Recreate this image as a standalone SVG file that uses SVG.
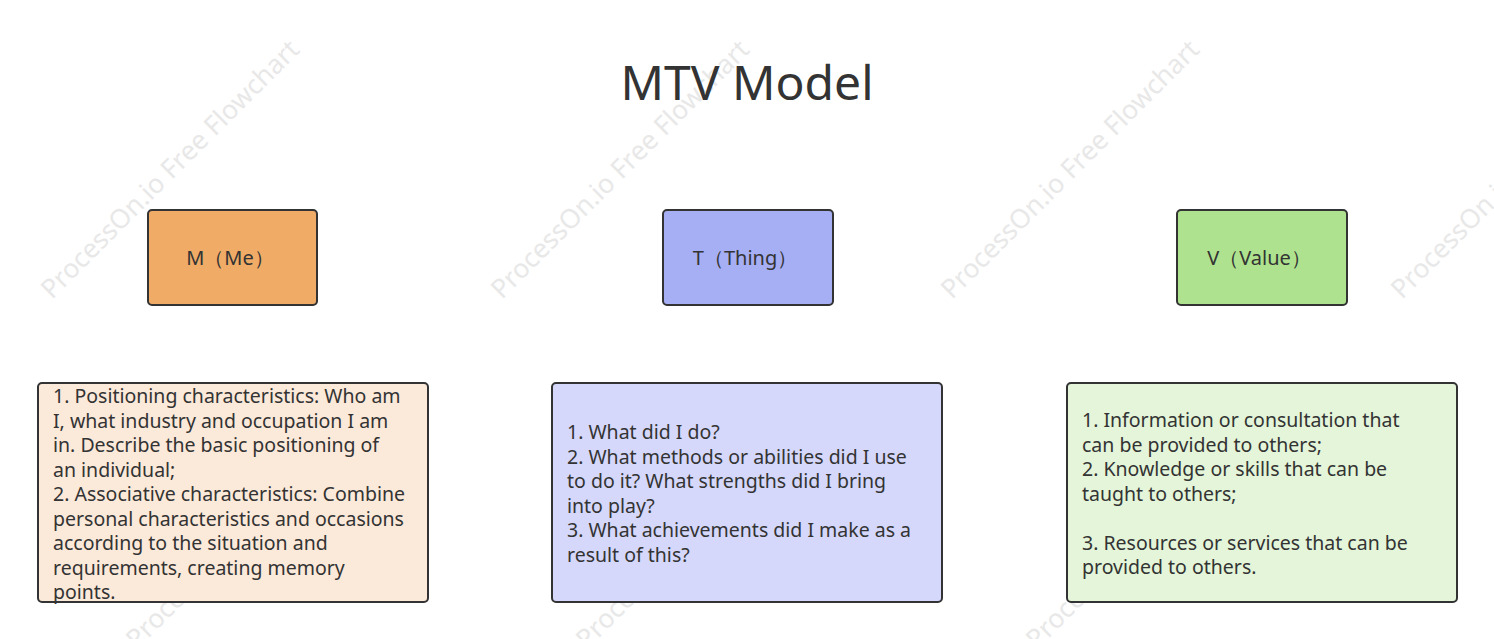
<svg xmlns="http://www.w3.org/2000/svg" width="1494" height="639" viewBox="0 0 1494 639">
<style>
text{font-family:"Noto Sans","Open Sans","Liberation Sans",sans-serif;fill:#333}
.wm{fill:#e8e8e8;font-size:26.5px}
.box{stroke:#333;stroke-width:2}
.lbl{font-size:20px}
.body{font-size:19.5px}
</style>
<rect width="1494" height="639" fill="#fff"/>
<g id="watermarks">
<text class="wm" transform="translate(52,300) rotate(-45)">ProcessOn.io Free Flowchart</text>
<text class="wm" transform="translate(502,300) rotate(-45)">ProcessOn.io Free Flowchart</text>
<text class="wm" transform="translate(952,300) rotate(-45)">ProcessOn.io Free Flowchart</text>
<text class="wm" transform="translate(1402,300) rotate(-45)">ProcessOn.io Free Flowchart</text>
<text class="wm" transform="translate(137,650) rotate(-45)">ProcessOn.io Free Flowchart</text>
<text class="wm" transform="translate(587,650) rotate(-45)">ProcessOn.io Free Flowchart</text>
<text class="wm" transform="translate(1037,650) rotate(-45)">ProcessOn.io Free Flowchart</text>
</g>
<g id="title"><text x="747" y="100" text-anchor="middle" font-size="48">MTV Model</text></g>
<g id="connectors"></g>
<g id="m"><rect class="box" x="148" y="210" width="169" height="95" rx="4" fill="#f0ab67"/><text class="lbl" x="230" y="265" text-anchor="middle">M（Me）</text></g>
<g id="t"><rect class="box" x="663" y="210" width="170" height="95" rx="4" fill="#a6aef4"/><text class="lbl" x="745" y="265" text-anchor="middle">T（Thing）</text></g>
<g id="v"><rect class="box" x="1177" y="210" width="170" height="95" rx="4" fill="#aee28e"/><text class="lbl" x="1259" y="265" text-anchor="middle">V（Value）</text></g>
<g id="m-desc"><rect class="box" x="38" y="383" width="390" height="219" rx="4" fill="#fbe9da"/>
<text class="body"><tspan x="53" y="403">1. Positioning characteristics: Who am</tspan><tspan x="53" y="427.5">I, what industry and occupation I am</tspan><tspan x="53" y="452">in. Describe the basic positioning of</tspan><tspan x="53" y="476.5">an individual;</tspan><tspan x="53" y="501">2. Associative characteristics: Combine</tspan><tspan x="53" y="525.5">personal characteristics and occasions</tspan><tspan x="53" y="550">according to the situation and</tspan><tspan x="53" y="574.5">requirements, creating memory</tspan><tspan x="53" y="599">points.</tspan></text></g>
<g id="t-desc"><rect class="box" x="552" y="383" width="390" height="219" rx="4" fill="#d5d8fa"/>
<text class="body"><tspan x="567" y="439">1. What did I do?</tspan><tspan x="567" y="463.5">2. What methods or abilities did I use</tspan><tspan x="567" y="488">to do it? What strengths did I bring</tspan><tspan x="567" y="512.5">into play?</tspan><tspan x="567" y="537">3. What achievements did I make as a</tspan><tspan x="567" y="561.5">result of this?</tspan></text></g>
<g id="v-desc"><rect class="box" x="1067" y="383" width="390" height="219" rx="4" fill="#e4f5d9"/>
<text class="body"><tspan x="1082" y="427">1. Information or consultation that</tspan><tspan x="1082" y="451.5">can be provided to others;</tspan><tspan x="1082" y="476">2. Knowledge or skills that can be</tspan><tspan x="1082" y="500.5">taught to others;</tspan><tspan x="1082" y="549.5">3. Resources or services that can be</tspan><tspan x="1082" y="574">provided to others.</tspan></text></g>
</svg>
